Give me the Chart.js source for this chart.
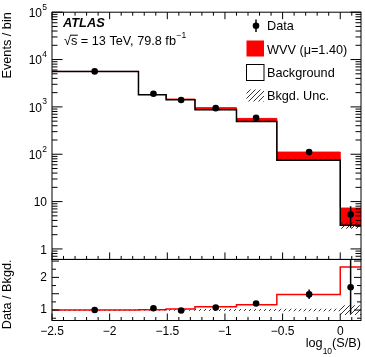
<!DOCTYPE html>
<html>
<head>
<meta charset="utf-8">
<script src="https://cdn.jsdelivr.net/npm/chart.js@4.4.1/dist/chart.umd.min.js"></script>
<style>
  html, body { margin: 0; padding: 0; background: #fff; }
</style>
</head>
<body>
<canvas id="chart" width="365" height="357"></canvas>
<script>
// bin edges in log10(S/B), last edge is the end of the plotted range
const binEdges = [-2.5, -1.75, -1.51, -1.26, -0.9, -0.55, 0, 0.18];
const bkgYields = [5600, 1800, 1420, 875, 492, 75, 3.15];
const wvvYields = [17, 22, 43, 88, 79, 36, 4.15];
const bkgRelUnc = [0.01, 0.015, 0.02, 0.03, 0.03, 0.04, 0.15];

// data points (x = mean log10(S/B) in the bin)
const dataX = [-2.13, -1.62, -1.38, -1.08, -0.73, -0.27, 0.09];
const dataYields = [5620, 1900, 1400, 940, 590, 111, 5.35];
const dataErrUp = [75, 44, 38, 31, 24, 11, 2.65];
const dataErrDown = [75, 44, 38, 31, 24, 10.5, 2.55];

// ticks
const xTickValues = [-2.5, -2, -1.5, -1, -0.5, 0];
const mainTickValues = [1, 10, 100, 1000, 10000, 100000];
const mainTickLabels = [['1', ''], ['10', ''], ['10', '2'], ['10', '3'], ['10', '4'], ['10', '5']];
const ratioTickValues = [1, 1.5, 2];

const FONT = "'Liberation Sans', Arial, Helvetica, sans-serif";

// step line through the bin edges
function stepLine(values) {
    return binEdges.map((x, i) => ({ x: x, y: values[Math.min(i, values.length - 1)] }));
}

function hatchPattern() {
    const c = document.createElement('canvas');
    c.width = 5;
    c.height = 5;
    const g = c.getContext('2d');
    g.strokeStyle = '#000';
    g.lineWidth = 0.8;
    g.beginPath();
    g.moveTo(0, 5); g.lineTo(5, 0);
    g.moveTo(-1, 1); g.lineTo(1, -1);
    g.moveTo(4, 6); g.lineTo(6, 4);
    g.stroke();
    return g.createPattern(c, 'repeat');
}
const hatch = hatchPattern();

const totalYields = bkgYields.map((b, i) => b + wvvYields[i]);
const bkgUp = bkgYields.map((b, i) => b * (1 + bkgRelUnc[i]));
const bkgDown = bkgYields.map((b, i) => b * (1 - bkgRelUnc[i]));
const ratioTotal = totalYields.map((t, i) => t / bkgYields[i]);
const ratioData = dataYields.map((d, i) => d / bkgYields[i]);
const ratioErrUp = dataErrUp.map((e, i) => e / bkgYields[i]);
const ratioErrDown = dataErrDown.map((e, i) => e / bkgYields[i]);
const ratioUncUp = bkgRelUnc.map(u => 1 + u);
const ratioUncDown = bkgRelUnc.map(u => 1 - u);

const lineBase = { stepped: true, pointRadius: 0, fill: false };

// error bars for datasets that carry errUp / errDown
const errorBars = {
    id: 'errorBars',
    afterDatasetsDraw(chart) {
        const ctx = chart.ctx;
        chart.data.datasets.forEach((ds, i) => {
            if (!ds.errUp) return;
            const meta = chart.getDatasetMeta(i);
            const ys = chart.scales[ds.yAxisID];
            ctx.save();
            ctx.beginPath();
            ctx.rect(chart.chartArea.left, ys.top, chart.chartArea.right - chart.chartArea.left, ys.bottom - ys.top);
            ctx.clip();
            ctx.strokeStyle = '#000';
            ctx.lineWidth = 1.5;
            meta.data.forEach((pt, j) => {
                const v = ds.data[j].y;
                const lo = v - ds.errDown[j];
                const top = ys.getPixelForValue(v + ds.errUp[j]);
                const bot = lo > 0 ? ys.getPixelForValue(lo) : ys.bottom;
                ctx.beginPath();
                ctx.moveTo(pt.x, top);
                ctx.lineTo(pt.x, bot);
                ctx.stroke();
            });
            ctx.restore();
        });
    }
};

// frames, inward ticks, labels and legend in ROOT style
const decorations = {
    id: 'decorations',
    afterDraw(chart) {
        const ctx = chart.ctx;
        const xs = chart.scales.x, ym = chart.scales.y, yr = chart.scales.y2;
        const L = chart.chartArea.left, R = chart.chartArea.right;
        ctx.save();
        ctx.strokeStyle = '#000';
        ctx.fillStyle = '#000';
        ctx.lineWidth = 1;

        ctx.strokeRect(L, ym.top, R - L, ym.bottom - ym.top);
        ctx.strokeRect(L, yr.top, R - L, yr.bottom - yr.top);

        const tick = (x1, y1, x2, y2) => {
            ctx.beginPath();
            ctx.moveTo(x1, y1);
            ctx.lineTo(x2, y2);
            ctx.stroke();
        };

        // x ticks every 0.1
        for (let k = -25; k <= 1; k++) {
            const v = k / 10;
            if (v > xs.max) continue;
            const px = xs.getPixelForValue(v);
            const major = k % 5 === 0;
            const lm = major ? 7 : 3.5;
            tick(px, ym.bottom, px, ym.bottom - lm);
            tick(px, ym.top, px, ym.top + lm);
            tick(px, yr.bottom, px, yr.bottom - lm);
        }

        // log y ticks
        for (let e = -1; e <= 5; e++) {
            for (let m = 1; m <= 9; m++) {
                const v = m * Math.pow(10, e);
                if (v < ym.min || v > ym.max) continue;
                const py = ym.getPixelForValue(v);
                const lm = m === 1 ? 10.5 : 5.5;
                tick(L, py, L + lm, py);
                tick(R, py, R - lm, py);
            }
        }

        // ratio ticks every 0.25
        for (let k = 3; k <= 10; k++) {
            const v = k * 0.25;
            if (v < yr.min || v > yr.max) continue;
            const py = yr.getPixelForValue(v);
            const lm = k % 2 === 0 ? 7 : 4;
            tick(L, py, L + lm, py);
            tick(R, py, R - lm, py);
        }

        // main y labels with exponents
        ctx.textBaseline = 'middle';
        ctx.textAlign = 'right';
        mainTickValues.forEach((v, i) => {
            const py = ym.getPixelForValue(v);
            const [base, exp] = mainTickLabels[i];
            let xr = L - 5;
            if (exp) {
                ctx.font = '8.5px ' + FONT;
                ctx.fillText(exp, xr, py - 5);
                xr -= ctx.measureText(exp).width + 0.3;
            }
            ctx.font = '12px ' + FONT;
            ctx.fillText(base, xr, py + 1.5);
        });

        // ATLAS label
        ctx.textAlign = 'left';
        ctx.font = 'italic bold 12.8px ' + FONT;
        ctx.fillText('ATLAS', 63, 23);
        ctx.font = '12.7px ' + FONT;
        const line = '\u221As = 13 TeV, 79.8 fb';
        ctx.fillText(line, 64, 41.5);
        const wRad = ctx.measureText('\u221A').width;
        const wS = ctx.measureText('s').width;
        tick(64 + wRad - 0.5, 35.2, 64 + wRad + wS + 0.5, 35.2);
        const wLine = ctx.measureText(line).width;
        ctx.font = '8.5px ' + FONT;
        ctx.fillText('\u22121', 64 + wLine + 0.5, 36);

        // legend
        ctx.font = '12.7px ' + FONT;
        const tx = 267;
        ctx.beginPath();
        ctx.arc(256, 25.7, 3.3, 0, Math.PI * 2);
        ctx.fill();
        ctx.lineWidth = 1.5;
        tick(256, 19.5, 256, 32);
        ctx.lineWidth = 1;
        ctx.fillText('Data', tx, 26.5);

        ctx.fillStyle = '#ff0000';
        ctx.fillRect(246.5, 40.5, 17.5, 16);
        ctx.fillStyle = '#000';
        ctx.fillText('WVV (\u03BC=1.40)', tx, 50);

        ctx.strokeRect(246.5, 64.5, 17.5, 16);
        ctx.fillText('Background', tx, 73);

        ctx.fillStyle = hatch;
        ctx.fillRect(246.5, 89.5, 17.5, 12);
        ctx.fillStyle = '#000';
        ctx.fillText('Bkgd. Unc.', tx, 96.5);

        // x axis title log10(S/B)
        ctx.textAlign = 'left';
        ctx.textBaseline = 'alphabetic';
        ctx.font = '12.7px ' + FONT;
        const wLog = ctx.measureText('log').width;
        const wSB = ctx.measureText('(S/B)').width;
        ctx.font = '8.5px ' + FONT;
        const w10 = ctx.measureText('10').width;
        const x0 = R - wSB - w10 - wLog;
        ctx.font = '12.7px ' + FONT;
        ctx.fillText('log', x0, 347);
        ctx.fillText('(S/B)', x0 + wLog + w10, 347);
        ctx.font = '8.5px ' + FONT;
        ctx.fillText('10', x0 + wLog, 353.5);
        ctx.restore();
    }
};

new Chart(document.getElementById('chart'), {
    type: 'line',
    data: {
        datasets: [
            {
                label: 'Data', type: 'scatter', yAxisID: 'y',
                data: dataX.map((x, i) => ({ x: x, y: dataYields[i] })),
                errUp: dataErrUp, errDown: dataErrDown,
                pointRadius: 3.3, pointBackgroundColor: '#000', pointBorderWidth: 0, order: 0
            },
            { ...lineBase, label: 'Bkgd. Unc. up', yAxisID: 'y', data: stepLine(bkgUp), borderWidth: 0, fill: '+1', backgroundColor: hatch, order: 1 },
            { ...lineBase, label: 'Bkgd. Unc. down', yAxisID: 'y', data: stepLine(bkgDown), borderWidth: 0, order: 1 },
            { ...lineBase, label: 'Background', yAxisID: 'y', data: stepLine(bkgYields), borderColor: '#000', borderWidth: 1.5, order: 2 },
            { ...lineBase, label: 'WVV (\u03BC=1.40)', yAxisID: 'y', data: stepLine(totalYields), borderColor: '#ff0000', borderWidth: 1, backgroundColor: '#ff0000', fill: 3, order: 3 },
            {
                label: 'Data / Bkgd.', type: 'scatter', yAxisID: 'y2',
                data: dataX.map((x, i) => ({ x: x, y: ratioData[i] })),
                errUp: ratioErrUp, errDown: ratioErrDown,
                pointRadius: 3.3, pointBackgroundColor: '#000', pointBorderWidth: 0, order: 0
            },
            { ...lineBase, label: 'Ratio unc. up', yAxisID: 'y2', data: stepLine(ratioUncUp), borderWidth: 0, fill: '+1', backgroundColor: hatch, order: 1 },
            { ...lineBase, label: 'Ratio unc. down', yAxisID: 'y2', data: stepLine(ratioUncDown), borderWidth: 0, order: 1 },
            { ...lineBase, label: '(WVV + Bkgd.) / Bkgd.', yAxisID: 'y2', data: stepLine(ratioTotal), borderColor: '#ff0000', borderWidth: 1.5, order: 3 }
        ]
    },
    options: {
        responsive: false,
        animation: false,
        devicePixelRatio: 1,
        layout: { padding: { top: 9, right: 2.1, left: 0, bottom: 0 } },
        plugins: { legend: { display: false }, tooltip: { enabled: false } },
        scales: {
            x: {
                type: 'linear', min: -2.5, max: 0.18,
                afterBuildTicks: s => { s.ticks = xTickValues.map(v => ({ value: v })); },
                afterFit: s => { s.height = 36.5; },
                grid: { display: false, drawTicks: false },
                border: { display: false },
                ticks: {
                    padding: 4, color: '#000', maxRotation: 0,
                    font: { family: FONT, size: 12 },
                    callback: v => String(v).replace('-', '\u2212')
                }
            },
            y: {
                type: 'logarithmic', position: 'left', stack: 'panels', stackWeight: 249.8, weight: 2,
                min: 0.64, max: 100000,
                afterBuildTicks: s => { s.ticks = mainTickValues.map(v => ({ value: v })); },
                afterFit: s => { s.width = 52; },
                grid: { display: false, drawTicks: false },
                border: { display: false },
                ticks: { display: false },
                title: { display: true, text: 'Events / bin', align: 'end', color: '#000', padding: 0, font: { family: FONT, size: 12.7 } }
            },
            y2: {
                type: 'linear', position: 'left', stack: 'panels', stackWeight: 61.7, weight: 1,
                min: 0.68, max: 2.55,
                afterBuildTicks: s => { s.ticks = ratioTickValues.map(v => ({ value: v })); },
                afterFit: s => { s.width = 52; },
                grid: { display: false, drawTicks: false },
                border: { display: false },
                ticks: { padding: 5, color: '#000', font: { family: FONT, size: 12 }, callback: v => String(v) },
                title: { display: true, text: 'Data / Bkgd.', align: 'end', color: '#000', padding: 0, font: { family: FONT, size: 12.7 } }
            }
        }
    },
    plugins: [errorBars, decorations]
});
</script>
</body>
</html>
